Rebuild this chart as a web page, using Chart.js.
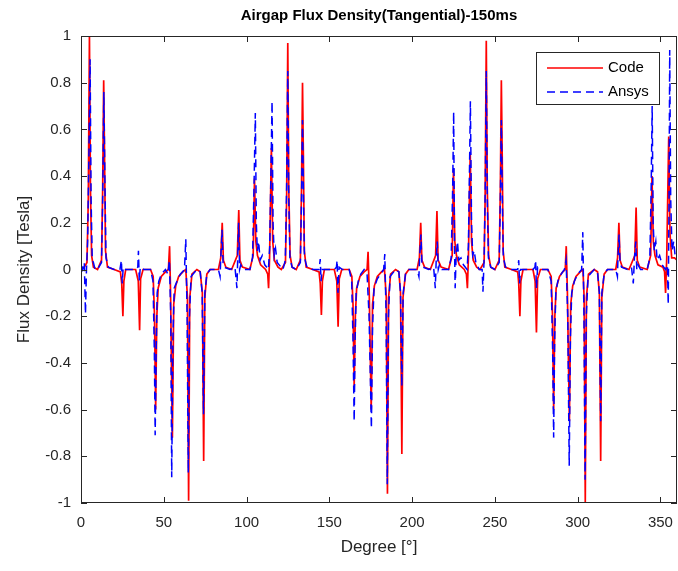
<!DOCTYPE html>
<html>
<head>
<meta charset="utf-8">
<script src="https://cdn.jsdelivr.net/npm/chart.js@4.4.1/dist/chart.umd.min.js"></script>
<style>
  html, body { margin: 0; padding: 0; background: #fff; }
  canvas { display: block; }
</style>
</head>
<body>
<canvas id="fluxChart" width="678" height="571"></canvas>
<script>
"use strict";

const chartTitle = 'Airgap Flux Density(Tangential)-150ms';
const xLabel = 'Degree [°]';
const yLabel = 'Flux Density [Tesla]';
const seriesNames = ['Code', 'Ansys'];
const xTickValues = [0, 50, 100, 150, 200, 250, 300, 350];

// [degree, tesla]
const codeSeries = [
    [0, 0.0], [2, 0.01], [3.6, 0.03], [4.4, 0.3], [5.1, 1.0], [5.7, 0.35], [6.4, 0.06], [7.5, 0.01],
    [10, 0.0], [12.4, 0.04], [13.1, 0.35], [13.7, 0.81], [14.2, 0.5], [14.8, 0.08], [16, 0.01], [20, 0.0],
    [23.8, -0.01], [24.6, -0.06], [25.3, -0.2], [25.9, -0.05], [27, 0.0], [33, 0.0], [34.6, -0.05],
    [35.4, -0.26], [36.0, -0.04], [37.5, 0.0], [42, 0.0], [43.6, -0.03], [44.4, -0.2], [45.1, -0.6],
    [45.8, -0.2], [46.6, -0.08], [48.5, -0.03], [51, -0.01], [52.8, 0.0], [53.5, 0.1], [54.1, -0.1],
    [55.2, -0.72], [56.0, -0.15], [57.2, -0.07], [59, -0.03], [61.5, -0.01], [63.3, 0.0], [64.3, -0.12],
    [65.0, -0.99], [65.7, -0.12], [67, -0.02], [70, 0.0], [72, -0.01], [73.3, -0.1], [74.1, -0.82],
    [74.8, -0.12], [76, -0.02], [78, 0.0], [83, 0.0], [84.4, 0.05], [85.3, 0.2], [86.0, 0.04], [87.5, 0.01],
    [91, 0.0], [94.4, 0.06], [95.3, 0.255], [96.0, 0.04], [97.5, 0.01], [102, 0.0], [104.0, 0.06],
    [104.8, 0.39], [105.6, 0.12], [106.6, 0.06], [108.5, 0.02], [111.5, 0.0], [112.8, -0.02], [113.3, -0.08],
    [113.9, 0.05], [115.0, 0.52], [115.8, 0.12], [116.8, 0.04], [119, 0.01], [121, 0.0], [123.5, 0.03],
    [124.2, 0.3], [124.9, 0.97], [125.5, 0.35], [126.3, 0.06], [127.5, 0.01], [130, 0.0], [132.5, 0.04],
    [133.2, 0.35], [133.8, 0.8], [134.3, 0.5], [134.9, 0.08], [136, 0.01], [140, 0.0], [143.8, -0.01],
    [144.5, -0.06], [145.2, -0.195], [145.8, -0.05], [147, 0.0], [153, 0.0], [154.5, -0.05], [155.3, -0.245],
    [156.0, -0.04], [157.5, 0.0], [162, 0.0], [163.6, -0.03], [164.3, -0.15], [165.0, -0.5], [165.7, -0.2],
    [166.5, -0.08], [168.5, -0.03], [171, -0.01], [172.8, 0.0], [173.4, 0.076], [174.1, -0.1], [175.3, -0.6],
    [176.1, -0.15], [177.2, -0.07], [179, -0.03], [181.5, -0.01], [183.3, 0.0], [184.4, -0.12], [185.1, -0.96],
    [185.8, -0.12], [187, -0.02], [190, 0.0], [192, -0.01], [193.0, -0.1], [193.8, -0.79], [194.5, -0.12],
    [196, -0.02], [198, 0.0], [203, 0.0], [204.4, 0.05], [205.2, 0.2], [205.9, 0.04], [207.5, 0.01], [211, 0.0],
    [214.2, 0.06], [215.0, 0.25], [215.7, 0.04], [217.5, 0.01], [222, 0.0], [224.2, 0.06], [225.0, 0.43],
    [225.8, 0.12], [226.8, 0.06], [228.5, 0.02], [231.5, 0.0], [232.8, -0.02], [233.4, -0.08], [234.0, 0.05],
    [235.1, 0.5], [235.9, 0.12], [236.9, 0.04], [239, 0.01], [241, 0.0], [243.5, 0.03], [244.1, 0.3],
    [244.8, 0.98], [245.4, 0.35], [246.2, 0.06], [247.5, 0.01], [250, 0.0], [252.6, 0.04], [253.3, 0.35],
    [253.9, 0.81], [254.4, 0.5], [255.0, 0.08], [256, 0.01], [260, 0.0], [263.8, -0.01], [264.4, -0.06],
    [265.1, -0.2], [265.7, -0.05], [267, 0.0], [273, 0.0], [274.3, -0.05], [275.1, -0.27], [275.8, -0.04],
    [277.5, 0.0], [282, 0.0], [284.0, -0.03], [284.8, -0.2], [285.5, -0.6], [286.2, -0.2], [287.0, -0.08],
    [289, -0.03], [291, -0.01], [292.5, 0.0], [293.1, 0.1], [293.8, -0.1], [295.0, -0.65], [295.8, -0.15],
    [297, -0.07], [299, -0.03], [301.5, -0.01], [303.2, 0.0], [303.9, -0.12], [304.6, -1.0], [305.3, -0.12],
    [306.5, -0.02], [310, 0.0], [312, -0.01], [313.1, -0.1], [313.9, -0.82], [314.6, -0.12], [316, -0.02],
    [318, 0.0], [323, 0.0], [324.1, 0.05], [324.9, 0.2], [325.6, 0.04], [327, 0.01], [331, 0.0], [334.5, 0.06],
    [335.3, 0.265], [336.0, 0.04], [337.5, 0.01], [342, 0.0], [344.1, 0.06], [344.9, 0.4], [345.7, 0.12],
    [346.7, 0.06], [348.5, 0.02], [351.5, 0.01], [352.5, -0.01], [353.1, -0.1], [353.8, 0.05], [355.0, 0.57],
    [355.8, 0.15], [356.8, 0.05], [358.5, 0.05], [360, 0.04]
];

const ansysSeries = [
    [0, 0.02], [1, 0.0], [2.0, 0.03], [2.7, -0.19], [3.3, 0.0], [4.0, 0.12], [4.8, 0.5], [5.5, 0.9],
    [6.1, 0.3], [6.8, 0.04], [7.5, 0.03], [8.5, 0.0], [10, 0.0], [12.4, 0.03], [13.1, 0.3], [13.8, 0.76],
    [14.4, 0.4], [15.1, 0.05], [16.5, 0.01], [20, 0.0], [23.5, 0.0], [24.4, 0.04], [24.9, -0.06], [25.5, 0.01],
    [27, 0.0], [33, 0.0], [34.3, 0.01], [34.7, 0.08], [35.2, -0.05], [35.8, 0.01], [38, 0.0], [42, 0.0],
    [43.5, -0.05], [44.3, -0.35], [44.8, -0.71], [45.4, -0.35], [46.0, -0.1], [47, -0.05], [48.5, -0.02],
    [51, 0.0], [52.5, -0.02], [53.4, 0.04], [54.2, -0.2], [54.8, -0.89], [55.5, -0.3], [56.3, -0.08],
    [58, -0.05], [60, -0.02], [62.5, 0.0], [63.3, 0.13], [64.1, -0.2], [64.8, -0.87], [65.5, -0.2],
    [66.5, -0.03], [70, 0.0], [72, -0.01], [73.2, -0.1], [74.0, -0.62], [74.8, -0.1], [76, -0.02], [78, 0.0],
    [83, 0.0], [84.0, -0.03], [84.5, 0.06], [85.2, 0.17], [85.8, 0.03], [86.5, 0.01], [90, 0.0], [93, 0.01],
    [94.2, -0.08], [94.7, 0.06], [95.2, 0.2], [95.8, 0.0], [96.5, 0.02], [98, 0.0], [102, 0.0], [103.6, 0.05],
    [104.5, 0.35], [105.3, 0.67], [105.9, 0.2], [106.5, 0.08], [107.3, 0.12], [108.2, 0.04], [109.5, 0.06],
    [111, 0.02], [113.2, 0.0], [114.0, 0.1], [114.8, 0.45], [115.4, 0.72], [116.0, 0.2], [116.7, 0.06],
    [117.5, 0.09], [118.5, 0.03], [122, 0.0], [123.4, 0.04], [124.2, 0.35], [124.9, 0.85], [125.5, 0.3],
    [126.2, 0.05], [127.5, 0.01], [130, 0.0], [132.5, 0.03], [133.2, 0.3], [133.8, 0.64], [134.4, 0.3],
    [135, 0.05], [136.5, 0.01], [140, 0.0], [143.8, 0.0], [144.5, 0.045], [145.0, -0.05], [145.6, 0.0],
    [147, 0.0], [153, 0.0], [154.3, 0.01], [154.7, 0.04], [155.2, -0.1], [155.9, 0.01], [158, 0.0], [162, 0.0],
    [163.5, -0.05], [164.3, -0.3], [165.0, -0.65], [165.6, -0.3], [166.2, -0.1], [167.5, -0.05], [169, -0.02],
    [171, 0.0], [172.8, -0.02], [174.0, -0.2], [175.4, -0.68], [176.1, -0.25], [177, -0.08], [179, -0.04],
    [181, -0.02], [182.8, 0.0], [183.5, 0.066], [184.3, -0.2], [185.0, -0.92], [185.7, -0.2], [186.7, -0.03],
    [190, 0.0], [192, -0.01], [193.0, -0.1], [193.8, -0.5], [194.6, -0.1], [196, -0.02], [198, 0.0], [203, 0.0],
    [204.1, -0.03], [204.6, 0.06], [205.3, 0.15], [205.9, 0.03], [206.6, 0.01], [210, 0.0], [213, 0.01],
    [214.0, -0.08], [214.6, 0.05], [215.2, 0.12], [215.8, 0.0], [216.5, 0.02], [218, 0.0], [222, 0.0],
    [223.6, 0.05], [224.5, 0.35], [225.1, 0.675], [225.6, 0.1], [226.0, -0.08], [226.6, 0.06], [227.4, 0.12],
    [228.2, 0.04], [229.5, 0.05], [231, 0.02], [233.2, 0.0], [234.0, 0.1], [234.7, 0.45], [235.2, 0.72],
    [235.9, 0.2], [236.6, 0.06], [237.5, 0.08], [238.5, 0.03], [240.5, 0.0], [242.3, 0.0], [242.8, -0.095],
    [243.5, 0.05], [244.2, 0.35], [244.8, 0.85], [245.4, 0.3], [246.1, 0.05], [247.5, 0.01], [250, 0.0],
    [252.6, 0.03], [253.3, 0.3], [253.9, 0.64], [254.5, 0.3], [255.1, 0.05], [256.5, 0.01], [260, 0.0],
    [263.8, 0.0], [264.4, 0.04], [264.9, -0.06], [265.5, 0.0], [267, 0.0], [273, 0.0], [274.2, 0.01],
    [274.6, 0.04], [275.1, -0.08], [275.8, 0.01], [278, 0.0], [282, 0.0], [284.0, -0.05], [284.9, -0.35],
    [285.5, -0.72], [286.1, -0.3], [286.8, -0.1], [288, -0.05], [290, -0.02], [292, 0.0], [293.0, 0.04],
    [294.0, -0.2], [294.9, -0.84], [295.6, -0.3], [296.4, -0.1], [298, -0.05], [300, -0.02], [302.4, 0.0],
    [303.1, 0.16], [303.8, -0.2], [304.5, -0.9], [305.2, -0.2], [306.3, -0.03], [310, 0.0], [312, -0.01],
    [313.1, -0.1], [313.9, -0.65], [314.6, -0.1], [316, -0.02], [318, 0.0], [323, 0.0], [324.0, -0.03],
    [324.4, 0.06], [325.0, 0.15], [325.6, 0.03], [326.5, 0.01], [330, 0.0], [332.5, 0.01], [333.6, -0.06],
    [334.3, 0.05], [335.1, 0.12], [335.7, 0.0], [336.5, 0.02], [338, 0.0], [342, 0.0], [343.6, 0.05],
    [344.4, 0.35], [345.0, 0.70], [345.6, 0.2], [346.3, 0.08], [347.2, 0.12], [348.0, 0.04], [349.5, 0.06],
    [351, 0.02], [353, 0.0], [354.2, 0.02], [354.7, -0.15], [355.2, 0.3], [355.6, 0.94], [356.2, 0.3],
    [357.0, 0.08], [358.0, 0.12], [359, 0.05], [360, 0.04]
];

const axisColor = '#262626';
const fontFamily = "'Liberation Sans', Arial, sans-serif";

// MATLAB style frame with inward ticks, plus the boxed legend
const matlabFrame = {
    id: 'matlabFrame',
    afterDraw(chart) {
        const { ctx, chartArea: a, scales } = chart;
        ctx.save();
        ctx.strokeStyle = axisColor;
        ctx.lineWidth = 1;
        ctx.strokeRect(Math.round(a.left) + 0.5, Math.round(a.top) + 0.5,
            Math.round(a.right - a.left) - 1, Math.round(a.bottom - a.top) - 1);

        const tickLen = 6;
        ctx.beginPath();
        scales.x.ticks.forEach(t => {
            const px = Math.round(scales.x.getPixelForValue(t.value)) + 0.5;
            ctx.moveTo(px, a.bottom); ctx.lineTo(px, a.bottom - tickLen);
            ctx.moveTo(px, a.top); ctx.lineTo(px, a.top + tickLen);
        });
        scales.y.ticks.forEach(t => {
            const py = Math.round(scales.y.getPixelForValue(t.value)) + 0.5;
            ctx.moveTo(a.left, py); ctx.lineTo(a.left + tickLen, py);
            ctx.moveTo(a.right, py); ctx.lineTo(a.right - tickLen, py);
        });
        ctx.stroke();

        // legend
        const lx = 536, ly = 52, lw = 123, lh = 52;
        ctx.fillStyle = '#fff';
        ctx.fillRect(lx, ly, lw, lh);
        ctx.strokeStyle = axisColor;
        ctx.strokeRect(lx + 0.5, ly + 0.5, lw, lh);
        ctx.font = '15px ' + fontFamily;
        ctx.textBaseline = 'middle';
        ctx.textAlign = 'left';
        chart.data.datasets.forEach((ds, i) => {
            const y = ly + 16 + i * 24;
            ctx.strokeStyle = ds.borderColor;
            ctx.lineWidth = ds.borderWidth;
            ctx.setLineDash(ds.borderDash || []);
            ctx.beginPath();
            ctx.moveTo(lx + 11, y);
            ctx.lineTo(lx + 67, y);
            ctx.stroke();
            ctx.setLineDash([]);
            ctx.fillStyle = '#000';
            ctx.fillText(ds.label, lx + 72, y);
        });
        ctx.restore();
    }
};

const toPoints = arr => arr.map(([x, y]) => ({ x, y }));

new Chart(document.getElementById('fluxChart'), {
    type: 'line',
    data: {
        datasets: [{
            label: seriesNames[0],
            data: toPoints(codeSeries),
            borderColor: '#ff0000',
            borderWidth: 1.7,
            order: 2
        }, {
            label: seriesNames[1],
            data: toPoints(ansysSeries),
            borderColor: '#0000ff',
            borderWidth: 1.5,
            borderDash: [8, 5],
            order: 1
        }]
    },
    options: {
        responsive: false,
        animation: false,
        elements: {
            point: { radius: 0 },
            line: { tension: 0 }
        },
        layout: { padding: { left: 0, right: 1, top: 0, bottom: 0 } },
        plugins: {
            legend: { display: false },
            tooltip: { enabled: false },
            title: {
                display: true,
                text: chartTitle,
                fullSize: false,
                color: '#000',
                font: { family: fontFamily, size: 15, weight: 'bold' },
                padding: { top: 7, bottom: 11 }
            }
        },
        scales: {
            x: {
                type: 'linear',
                min: 0,
                max: 360,
                grid: { display: false, drawTicks: false },
                border: { display: false },
                afterBuildTicks: scale => {
                    scale.ticks = xTickValues.map(v => ({ value: v }));
                },
                afterFit: scale => {
                    scale.height = 68;
                    scale.paddingLeft = 0;
                    scale.paddingRight = 0;
                },
                ticks: {
                    color: axisColor,
                    padding: 11,
                    maxRotation: 0,
                    font: { family: fontFamily, size: 15 }
                },
                title: {
                    display: true,
                    text: xLabel,
                    color: axisColor,
                    font: { family: fontFamily, size: 17 },
                    padding: { top: 0, bottom: 13 }
                }
            },
            y: {
                min: -1,
                max: 1,
                grid: { display: false, drawTicks: false },
                border: { display: false },
                afterFit: scale => { scale.width = 81; },
                ticks: {
                    stepSize: 0.2,
                    color: axisColor,
                    padding: 10,
                    font: { family: fontFamily, size: 15 },
                    callback: v => String(Math.round(v * 10) / 10)
                },
                title: {
                    display: true,
                    text: yLabel,
                    color: axisColor,
                    font: { family: fontFamily, size: 17 },
                    padding: { top: 14, bottom: 0 }
                }
            }
        }
    },
    plugins: [matlabFrame]
});
</script>
</body>
</html>
